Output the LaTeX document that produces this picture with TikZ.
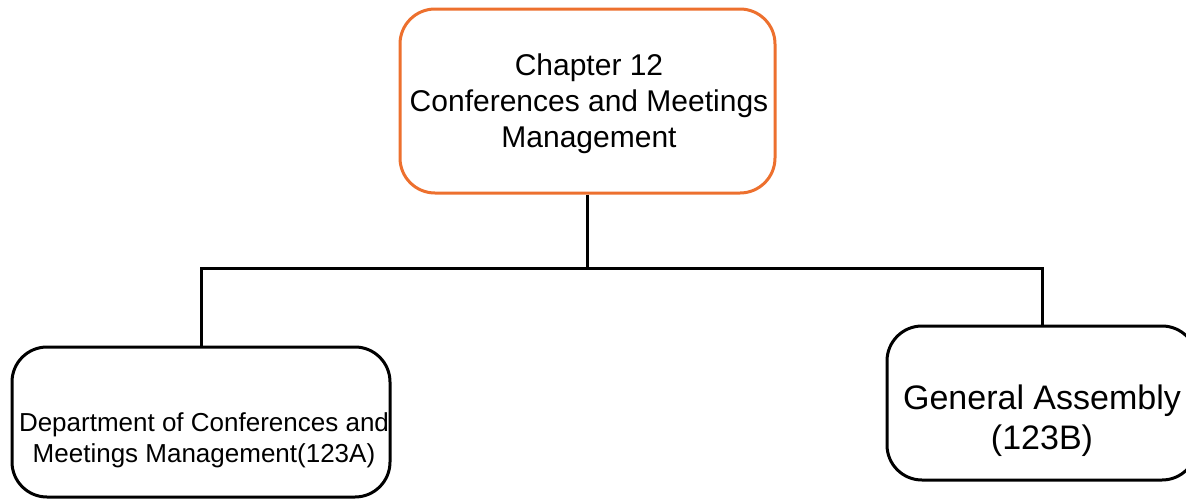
\documentclass[tikz,border=0pt]{standalone}
\usepackage{fontspec}
\setmainfont{Liberation Sans}
\definecolor{chapterorange}{RGB}{237,112,46}
\begin{document}
\begin{tikzpicture}[x=1pt,y=-1pt,
  box/.style={draw, line width=3pt, rounded corners=35pt, fill=white, inner sep=0pt},
  txt/.style={align=center, inner sep=0pt},
  link/.style={line width=3pt}]
\clip (0,0) rectangle (1186,498);
\useasboundingbox (0,0) rectangle (1186,498);

% boxes
\node[box, draw=chapterorange, minimum width=375pt, minimum height=184pt] (chap) at (587.5,101) {};
\node[box, minimum width=378pt, minimum height=150pt] (dept) at (201,422) {};
\node[box, minimum width=310pt, minimum height=154pt] (ga) at (1042,403) {};

% labels
\node[txt, font=\fontsize{30}{36}\selectfont] (chaptxt) at (589,104)
  {Chapter 12\\Conferences and Meetings\\Management};
\node[txt, font=\fontsize{26}{31}\selectfont] (depttxt) at (204,440)
  {Department of Conferences and\\Meetings Management(123A)};
\node[txt, font=\fontsize{34}{40}\selectfont] (gatxt) at (1042,421)
  {General Assembly\\(123B)};

% connectors
\coordinate (hub) at (587,268);
\draw[link] (chap.south -| hub) -- (hub);
\draw[link] (dept.north) -- (dept.north |- hub) -- (ga.north |- hub) -- (ga.north);
\end{tikzpicture}
\end{document}
